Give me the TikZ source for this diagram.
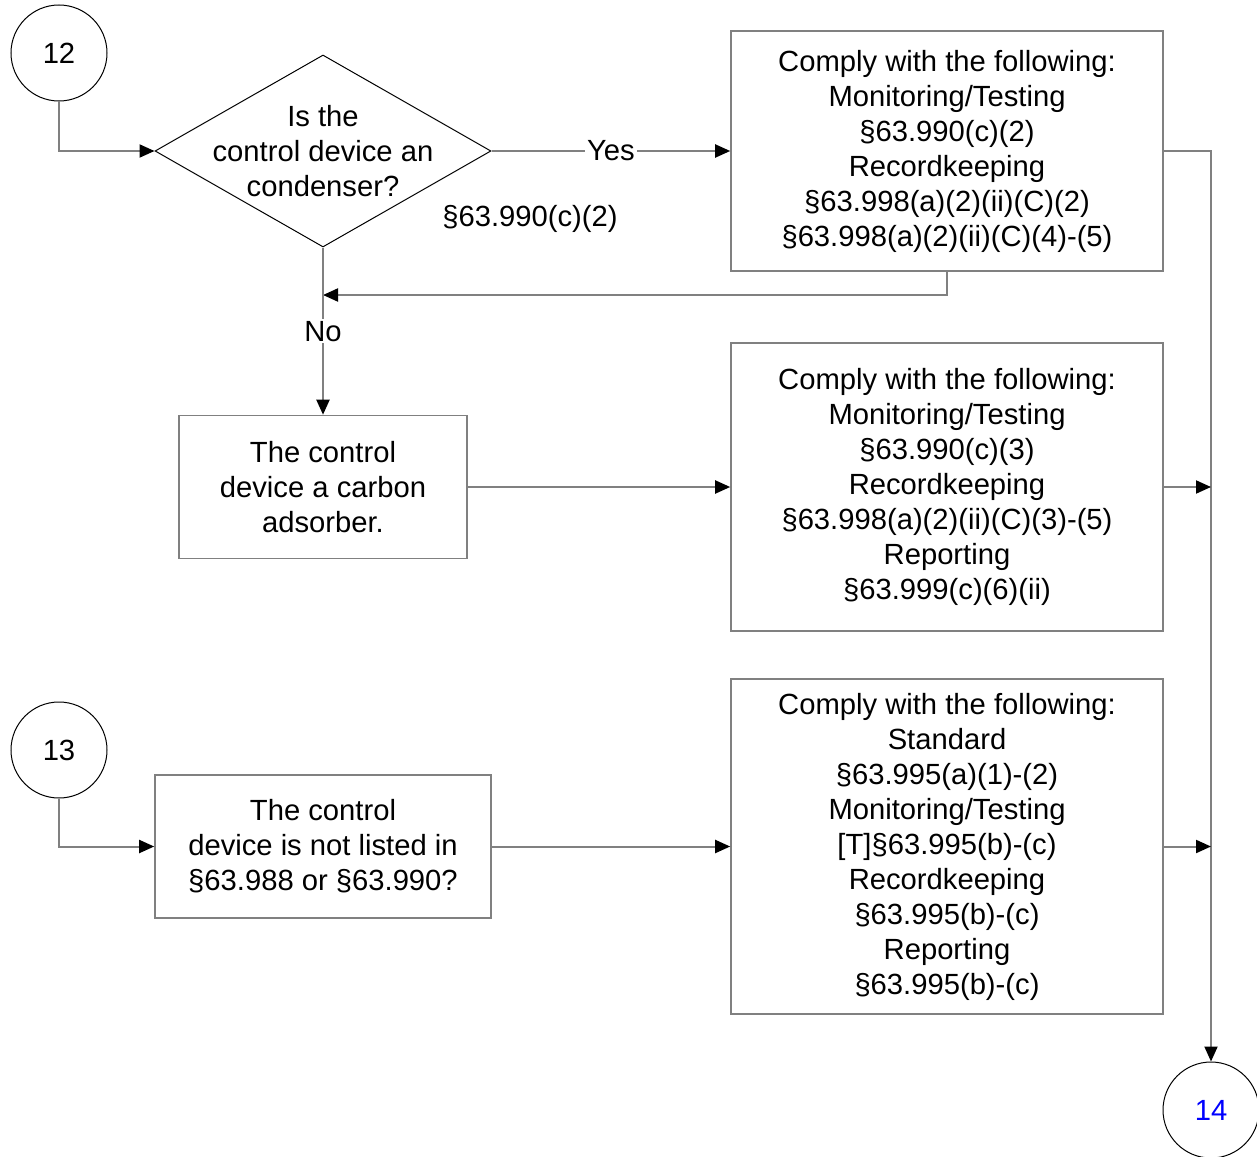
\documentclass[tikz,border=0pt]{standalone}
\usepackage{fontspec}
\setmainfont{Liberation Sans}
\usetikzlibrary{shapes.geometric,arrows.meta}
\definecolor{linegray}{RGB}{128,128,128}
\begin{document}
\begin{tikzpicture}[x=0.5pt,y=-0.5pt,
      font=\fontsize{14.6}{17.5}\selectfont,
      conn/.style={draw=linegray,line width=1pt},
      arr/.style={conn,-{Triangle[length=7.5pt,width=6.5pt,color=black]}},
      offpage/.style={circle,draw,line width=0.5pt,minimum size=48pt,inner sep=0pt},
      stepbox/.style={rectangle,draw=linegray,line width=0.8pt,align=center,inner sep=0pt},
      lbl/.style={fill=white,inner sep=1pt}]
      \useasboundingbox (0,0) rectangle (1257,1156);
      % connectors in and out
      \node[offpage] (c12) at (59,53) {12};
      \node[offpage] (c13) at (59,750) {13};
      \node[offpage,text=blue] (c14) at (1211,1110) {14};
      % question
      \node[diamond,draw,line width=0.5pt,minimum width=168pt,minimum height=96pt,inner sep=0pt] (dec) at (323,151) {};
      \node[align=center] (dectxt) at (dec) {Is the\\control device an\\condenser?};
      \node (ref) at (530,219) {§63.990(c)(2)};
      % boxes
      \node[stepbox,minimum width=216pt,minimum height=120pt] (cond) at (947,151)
        {Comply with the following:\\Monitoring/Testing\\§63.990(c)(2)\\Recordkeeping\\§63.998(a)(2)(ii)(C)(2)\\§63.998(a)(2)(ii)(C)(4)-(5)};
      \node[stepbox,minimum width=144pt,minimum height=71.5pt] (carb) at (323,487)
        {The control\\device a carbon\\adsorber.};
      \node[stepbox,minimum width=216pt,minimum height=144pt] (carbreq) at (947,487)
        {Comply with the following:\\Monitoring/Testing\\§63.990(c)(3)\\Recordkeeping\\§63.998(a)(2)(ii)(C)(3)-(5)\\Reporting\\§63.999(c)(6)(ii)};
      \node[stepbox,minimum width=168pt,minimum height=71.5pt] (other) at (323,846.5)
        {The control\\device is not listed in\\§63.988 or §63.990?};
      \node[stepbox,minimum width=216pt,minimum height=167.5pt] (otherreq) at (947,846.5)
        {Comply with the following:\\Standard\\§63.995(a)(1)-(2)\\Monitoring/Testing\\{[T]}§63.995(b)-(c)\\Recordkeeping\\§63.995(b)-(c)\\Reporting\\§63.995(b)-(c)};
      \coordinate (back) at (323,295);
      % arrows
      \draw[arr] (c12.south) |- (dec.west);
      \draw[arr] (dec.east) -- node[lbl] {Yes} (cond.west);
      \draw[arr] (cond.south) |- (back);
      \draw[arr] (dec.south) -- node[lbl] {No} (carb.north);
      \draw[arr] (carb.east) -- (carbreq.west);
      \draw[arr] (cond.east) -| (c14.north);
      \draw[arr] (carbreq.east) -- (carbreq.east -| c14);
      \draw[arr] (c13.south) |- (other.west);
      \draw[arr] (other.east) -- (otherreq.west);
      \draw[arr] (otherreq.east) -- (otherreq.east -| c14);
\end{tikzpicture}
\end{document}
